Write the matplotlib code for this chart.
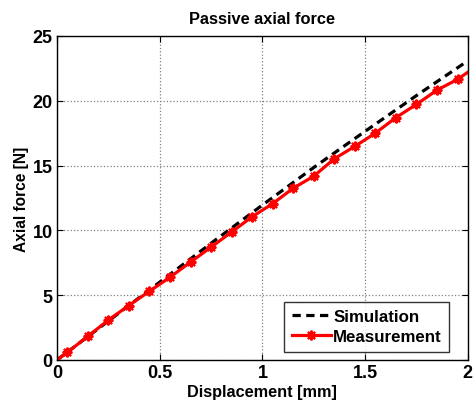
import numpy as np
import matplotlib.pyplot as plt

plt.rcParams['font.family'] = ['Liberation Sans', 'DejaVu Sans']

# simulation curve
sim_x = [0, 0.25, 0.5, 0.75, 1.0, 1.25, 1.5, 1.75, 2.0]
sim_y = [0, 3.0, 6.0, 9.0, 11.95, 14.85, 17.64, 20.4, 23.08]

# measurement points
meas_x = [0, 0.05, 0.15, 0.25, 0.35, 0.45, 0.55, 0.65, 0.75, 0.85, 0.95,
          1.05, 1.15, 1.25, 1.35, 1.45, 1.55, 1.65, 1.75, 1.85, 1.95, 2.0]
meas_y = [0, 0.58, 1.82, 3.08, 4.2, 5.3, 6.38, 7.55, 8.7, 9.87, 11.05,
          12.06, 13.25, 14.18, 15.52, 16.48, 17.5, 18.7, 19.72, 20.82, 21.65, 22.2]

fig = plt.figure(figsize=(4.73, 4.06), dpi=100)
ax = fig.add_axes([0.1205, 0.111, 0.8685, 0.798])

ax.plot(sim_x, sim_y, color='black', linestyle='--', linewidth=2.3,
        dashes=(2.6, 1.7), label='Simulation')
ax.plot(meas_x, meas_y, color='red', linewidth=2.3, marker=(8, 2, 0),
        markersize=7, markeredgewidth=1.5, markevery=list(range(1, len(meas_x) - 1)),
        label='Measurement')

ax.set_xlim(0, 2)
ax.set_ylim(0, 25)
ax.set_xticks([0, 0.5, 1, 1.5, 2])
ax.set_xticklabels(['0', '0.5', '1', '1.5', '2'])
ax.set_yticks([0, 5, 10, 15, 20, 25])
ax.grid(True, linestyle=':', color='#808080', linewidth=0.9)
ax.tick_params(direction='in', top=True, right=True, length=4,
               labelsize=13, pad=3)
for lab in ax.get_xticklabels() + ax.get_yticklabels():
    lab.set_fontweight('bold')
for s in ax.spines.values():
    s.set_linewidth(1.0)

ax.set_title('Passive axial force', fontsize=11.8, fontweight='bold', pad=9)
ax.set_xlabel('Displacement [mm]', fontsize=11.7, fontweight='bold', labelpad=2)
ax.set_ylabel('Axial force [N]', fontsize=11.2, fontweight='bold', labelpad=3)

leg = ax.legend(loc='lower right', bbox_to_anchor=(0.955, 0.025), fontsize=12.2,
                frameon=True, fancybox=False, edgecolor='black', handlelength=2.3,
                borderaxespad=0.0, handletextpad=0.15, borderpad=0.45,
                labelspacing=0.3)
leg.get_frame().set_linewidth(1.0)
for t in leg.get_texts():
    t.set_fontweight('bold')

fig.savefig('out.png', dpi=100)
